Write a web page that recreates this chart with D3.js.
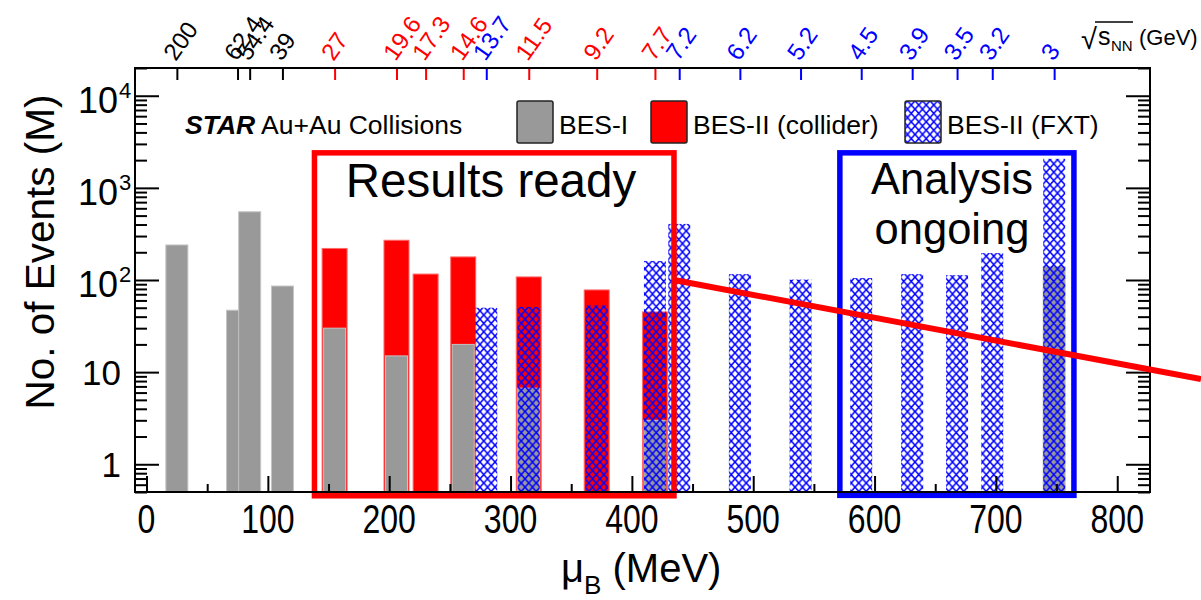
<!DOCTYPE html>
<html>
<head>
<meta charset="utf-8">
<script src="https://cdn.jsdelivr.net/npm/d3@7"></script>
<style>
  body { margin: 0; background: #fff; }
  svg text { font-family: "Liberation Sans", Arial, Helvetica, sans-serif; }
</style>
</head>
<body>
<div id="chart"></div>
<script>
// collision energies (top axis) and their muB (bottom axis)
var energies = ["200","62.4","54.4","39","27","19.6","17.3","14.6","13.7","11.5","9.2","7.7","7.2","6.2","5.2","4.5","3.9","3.5","3.2","3"];
var muB =      [25, 75, 85, 112, 155, 206, 230, 261, 280, 315, 371, 419, 439, 489, 539, 589, 631, 668, 697, 748];
var program =  ["I","I","I","I","C","C","C","C","F","C","C","C","F","F","F","F","F","F","F","F"];

// events in millions
var besIEnergy = ["200","62.4","54.4","39","27","19.6","14.6","11.5","7.7","3"];
var besIEvents = [240, 47, 550, 86, 30, 15, 20, 6.7, 3, 140];
var colliderEnergy = ["27","19.6","17.3","14.6","11.5","9.2","7.7"];
var colliderEvents = [220, 270, 116, 178, 108, 78, 45];
var fxtEnergy = ["13.7","11.5","9.2","7.7","7.2","6.2","5.2","4.5","3.9","3.5","3.2","3"];
var fxtEvents = [50, 51, 53, 161, 406, 116, 101, 105, 116, 113, 196, 2065];

var xTicks = [0,100,200,300,400,500,600,700,800];
var yTicks = [1,10,100,1000,10000];
var yTickLabels = ["1","10","10^2","10^3","10^4"];

// annotations in data coords [muB0, muB1, events0, events1]
var readyBox = [138.4, 434.7, 0.455, 2400];
var ongoingBox = [571.4, 764.3, 0.46, 2400];
var trendLine = [[434.7, 100], [869, 8.4]];

var width = 1201;
var height = 600;
var padL = 135, padR = 1150, padT = 68, padB = 492;

var colors = { I: "black", C: "#ff0000", F: "#0000ff" };

var xscale = d3.scaleLinear().domain([-9.5, 827]).range([padL, padR]);
var yscale = d3.scaleLog().domain([0.5, 20000]).range([padB, padT]);

var svg = d3
  .select("#chart")
  .append("svg")
  .attr("width", width)
  .attr("height", height);

var defs = svg.append("defs");
var pat = defs
  .append("pattern")
  .attr("id", "hatch")
  .attr("patternUnits", "userSpaceOnUse")
  .attr("width", 7.5)
  .attr("height", 8.4);
pat
  .append("path")
  .attr("d", "M-1,-1.12L8.5,9.52M8.5,-1.12L-1,9.52")
  .attr("stroke", "#0000ff")
  .attr("stroke-width", 1.5)
  .attr("fill", "none");

function muOf(e) {
  return muB[energies.indexOf(e)];
}

// bars: collider first, then BES-I, then FXT hatch on top
function bars(es, vals, w, fill, stroke) {
  svg
    .append("g")
    .selectAll("rect")
    .data(es)
    .enter()
    .append("rect")
    .attr("x", function (d) { return xscale(muOf(d)) - w / 2; })
    .attr("width", w)
    .attr("y", function (d, i) { return yscale(vals[i]); })
    .attr("height", function (d, i) { return yscale(0.5) - yscale(vals[i]); })
    .attr("fill", fill)
    .attr("stroke", stroke)
    .attr("stroke-width", stroke == "none" ? 0 : 1);
}
bars(colliderEnergy, colliderEvents, 25, "#ff0000", "#ff6a6a");
bars(besIEnergy, besIEvents, 22, "#999999", "#c4c4c4");
bars(fxtEnergy, fxtEvents, 22, "url(#hatch)", "none");

// boxes
function box(b, col) {
  svg
    .append("rect")
    .attr("x", xscale(b[0]))
    .attr("y", yscale(b[3]))
    .attr("width", xscale(b[1]) - xscale(b[0]))
    .attr("height", yscale(b[2]) - yscale(b[3]))
    .attr("fill", "none")
    .attr("stroke", col)
    .attr("stroke-width", 5.5);
}
box(readyBox, "#ff0000");
box(ongoingBox, "#0000ff");

svg.append("text")
  .attr("x", 491).attr("y", 197)
  .attr("text-anchor", "middle")
  .attr("font-size", "47.5px")
  .text("Results ready");
svg.append("text")
  .attr("x", 952).attr("y", 194)
  .attr("text-anchor", "middle")
  .attr("font-size", "43.5px")
  .text("Analysis");
svg.append("text")
  .attr("x", 952).attr("y", 244)
  .attr("text-anchor", "middle")
  .attr("font-size", "43.5px")
  .text("ongoing");

// frame and axes
function styleAxis(g) {
  g.select(".domain").remove();
  g.selectAll("line").attr("stroke-width", 2);
}

var majorX = d3.axisBottom(xscale).tickValues(xTicks).tickSize(-16).tickFormat("");
svg.append("g").attr("transform", "translate(0," + padB + ")").call(majorX).call(styleAxis);
var minorX = d3.axisBottom(xscale).tickValues(xTicks.map(function (d) { return d + 50; }).filter(function (d) { return d < 827; })).tickSize(-8).tickFormat("");
svg.append("g").attr("transform", "translate(0," + padB + ")").call(minorX).call(styleAxis);

var minorY = [];
[0.1, 1, 10, 100, 1000, 10000].forEach(function (dec) {
  for (var k = 2; k <= 9; k++) {
    var v = dec * k;
    if (v >= 0.5 && v <= 20000) minorY.push(v);
  }
});

svg.append("g").attr("transform", "translate(" + padL + ",0)")
  .call(d3.axisLeft(yscale).tickValues(yTicks).tickSize(-24).tickFormat("")).call(styleAxis);
svg.append("g").attr("transform", "translate(" + padL + ",0)")
  .call(d3.axisLeft(yscale).tickValues(minorY).tickSize(-12).tickFormat("")).call(styleAxis);
svg.append("g").attr("transform", "translate(" + padR + ",0)")
  .call(d3.axisRight(yscale).tickValues(yTicks).tickSize(-24).tickFormat("")).call(styleAxis);
svg.append("g").attr("transform", "translate(" + padR + ",0)")
  .call(d3.axisRight(yscale).tickValues(minorY).tickSize(-12).tickFormat("")).call(styleAxis);

// top energy axis
var topAxis = svg.append("g").attr("transform", "translate(0," + padT + ")")
  .call(d3.axisTop(xscale).tickValues(muB).tickSize(-12).tickFormat(""))
  .call(styleAxis);
topAxis.selectAll(".tick line").attr("stroke", function (d, i) { return colors[program[i]]; });

svg.append("g")
  .selectAll("text")
  .data(energies)
  .enter()
  .append("text")
  .attr("transform", function (d, i) { return "translate(" + (xscale(muB[i]) - 1) + ",62) rotate(-55)"; })
  .attr("font-size", "24px")
  .attr("fill", function (d, i) { return colors[program[i]]; })
  .text(function (d) { return d; });

svg.append("rect")
  .attr("x", padL).attr("y", padT)
  .attr("width", padR - padL).attr("height", padB - padT)
  .attr("fill", "none")
  .attr("stroke", "black")
  .attr("stroke-width", 2);

// bottom tick labels (narrow font)
svg.append("g")
  .selectAll("text")
  .data(xTicks)
  .enter()
  .append("text")
  .attr("transform", function (d) { return "translate(" + xscale(d) + ",533) scale(0.8,1)"; })
  .attr("text-anchor", "middle")
  .attr("font-size", "40px")
  .text(function (d) { return d; });

// y tick labels
yTicks.forEach(function (v, i) {
  var lab = yTickLabels[i];
  var y = yscale(v);
  if (lab.indexOf("^") < 0) {
    svg.append("text")
      .attr("x", 121).attr("y", y + 13)
      .attr("text-anchor", "end")
      .attr("font-size", "35px")
      .text(lab);
  } else {
    svg.append("text")
      .attr("x", 118).attr("y", y + 17)
      .attr("text-anchor", "end")
      .attr("font-size", "36px")
      .text(lab.split("^")[0]);
    svg.append("text")
      .attr("x", 119).attr("y", y + 2)
      .attr("font-size", "22px")
      .text(lab.split("^")[1]);
  }
});

// axis titles
svg.append("text")
  .attr("transform", "translate(54,252) rotate(-90)")
  .attr("text-anchor", "middle")
  .attr("font-size", "40.5px")
  .text("No. of Events (M)");

var xt = svg.append("text")
  .attr("x", 561).attr("y", 582)
  .attr("font-size", "40px");
xt.append("tspan").text("μ");
xt.append("tspan").attr("font-size", "26px").attr("dy", 12).text("B");
xt.append("tspan").attr("dy", -12).text(" (MeV)");

// sqrt(sNN) label
svg.append("text").attr("x", 1081).attr("y", 49).attr("font-size", "29px").text("√");
svg.append("text").attr("x", 1098).attr("y", 45).attr("font-size", "25px").text("s");
svg.append("text").attr("x", 1111).attr("y", 51).attr("font-size", "15px").text("NN");
svg.append("text").attr("x", 1139).attr("y", 45).attr("font-size", "22px").text("(GeV)");
svg.append("line")
  .attr("x1", 1095).attr("x2", 1133)
  .attr("y1", 22).attr("y2", 22)
  .attr("stroke", "black").attr("stroke-width", 1.5);

// legend
svg.append("text")
  .attr("x", 185).attr("y", 134)
  .attr("font-size", "26.5px")
  .html('<tspan font-weight="bold" font-style="italic">STAR</tspan> Au+Au Collisions');

var legend = [
  { fill: "#999999", x: 517, label: "BES-I" },
  { fill: "#ff0000", x: 651, label: "BES-II (collider)" },
  { fill: "url(#hatch)", x: 905, label: "BES-II (FXT)" }
];
legend.forEach(function (l) {
  if (l.fill == "url(#hatch)") {
    svg.append("rect").attr("x", l.x).attr("y", 101).attr("width", 36).attr("height", 42).attr("fill", "white");
  }
  svg.append("rect")
    .attr("x", l.x).attr("y", 101)
    .attr("width", 36).attr("height", 42)
    .attr("rx", 2)
    .attr("fill", l.fill)
    .attr("stroke", "#222")
    .attr("stroke-width", 1.5);
  svg.append("text")
    .attr("x", l.x + 42).attr("y", 134)
    .attr("font-size", "26.5px")
    .text(l.label);
});

// trend line over everything
svg.append("path")
  .datum(trendLine)
  .attr("fill", "none")
  .attr("stroke", "#ff0000")
  .attr("stroke-width", 6)
  .attr("d", d3.line()
    .x(function (d) { return xscale(d[0]); })
    .y(function (d) { return yscale(d[1]); }));
</script>
</body>
</html>
